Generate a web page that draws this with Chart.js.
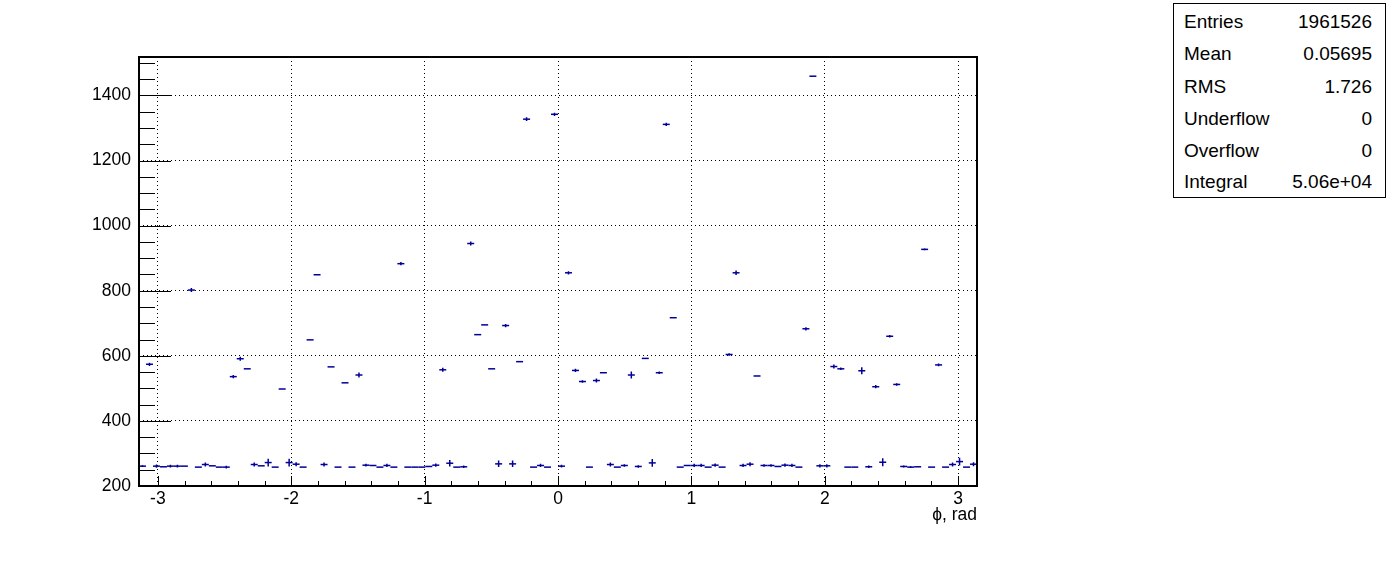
<!DOCTYPE html>
<html>
<head>
<meta charset="utf-8">
<script src="https://cdn.jsdelivr.net/npm/chart.js@4/dist/chart.umd.min.js"></script>
<style>
  html, body { margin: 0; padding: 0; background: #fff; }
  #wrap { position: relative; width: 1396px; height: 572px; }
  #stats {
    position: absolute; left: 1173px; top: 3px; width: 211px; height: 193px;
    border: 1px solid #000; background: #fff;
    font-family: "Liberation Sans", Arial, sans-serif; font-size: 19px; color: #000;
  }
  #stats .row {
    position: absolute; left: 10px; right: 13px; height: 32px;
    display: flex; justify-content: space-between; align-items: center;
  }
</style>
</head>
<body>
<div id="wrap">
  <canvas id="c" width="1396" height="572"></canvas>
  <div id="stats"></div>
</div>
<script>
'use strict';

// histogram: 120 bins over [-pi, pi]
const nBins = 120;
const phiMin = -Math.PI;
const phiMax = Math.PI;

// bin contents
const counts = [
  261, 574, 261, 259, 261, 261, 261, 802, 258, 266,
  262, 258, 258, 536, 591, 560, 266, 262, 272, 258,
  498, 272, 267, 258, 649, 849, 266, 566, 258, 517,
  258, 541, 264, 263, 258, 263, 258, 883, 258, 258,
  258, 260, 264, 557, 270, 258, 259, 945, 665, 695,
  560, 268, 693, 268, 582, 1327, 258, 263, 258, 1342,
  261, 855, 555, 521, 258, 524, 548, 266, 258, 263,
  541, 260, 592, 271, 548, 1311, 717, 258, 263, 263,
  263, 258, 264, 258, 604, 855, 263, 267, 538, 263,
  263, 260, 264, 263, 258, 683, 1459, 262, 262, 567,
  560, 258, 258, 554, 259, 505, 273, 660, 512, 260,
  258, 259, 927, 258, 572, 258, 266, 275, 258, 267
];

// error bar half heights
const errors = [
  3, 5, 5, 0, 4, 4, 0, 6, 0, 6,
  0, 0, 4, 5, 6, 0, 6, 0, 12, 0,
  0, 12, 6, 0, 0, 0, 6, 0, 0, 0,
  0, 8, 4, 0, 0, 5, 0, 5, 0, 0,
  0, 0, 5, 6, 10, 0, 4, 6, 0, 0,
  0, 10, 5, 10, 0, 6, 0, 5, 0, 5,
  4, 5, 5, 4, 0, 6, 0, 6, 0, 4,
  11, 4, 0, 12, 4, 5, 0, 0, 0, 5,
  5, 0, 5, 0, 4, 7, 5, 6, 0, 4,
  4, 0, 5, 5, 0, 5, 0, 5, 5, 6,
  4, 0, 0, 11, 4, 5, 12, 4, 4, 3,
  3, 0, 3, 0, 4, 0, 6, 12, 0, 6
];

const xTickValues = [-3, -2, -1, 0, 1, 2, 3];
const yTickValues = [200, 400, 600, 800, 1000, 1200, 1400];

const statsLabels = ['Entries', 'Mean', 'RMS', 'Underflow', 'Overflow', 'Integral'];
const statsValues = ['1961526', '0.05695', '1.726', '0', '0', '5.06e+04'];

const markerColor = '#000099';
const fontFamily = '"Liberation Sans", Arial, sans-serif';
const axisFont = { family: fontFamily, size: 17.5 };

const binWidth = (phiMax - phiMin) / nBins;
const binCenters = counts.map((_, i) => phiMin + (i + 0.5) * binWidth);

// stats box
const statsBox = document.getElementById('stats');
const rowTops = [2, 34, 67, 99, 131, 162];
statsLabels.forEach((lab, i) => {
  const row = document.createElement('div');
  row.className = 'row';
  row.style.top = rowTops[i] + 'px';
  row.innerHTML = '<span>' + lab + '</span><span>' + statsValues[i] + '</span>';
  statsBox.appendChild(row);
});

// frame, inner tick marks and error bars, ROOT style
const rootFrame = {
  id: 'rootFrame',
  afterDatasetsDraw(chart) {
    const { ctx, chartArea: a, scales: { x, y } } = chart;
    ctx.save();

    ctx.strokeStyle = markerColor;
    ctx.lineWidth = 1.5;
    ctx.beginPath();
    counts.forEach((c, i) => {
      if (!errors[i]) return;
      const px = x.getPixelForValue(binCenters[i]);
      ctx.moveTo(px, y.getPixelForValue(c - errors[i]));
      ctx.lineTo(px, y.getPixelForValue(c + errors[i]));
    });
    ctx.stroke();

    ctx.strokeStyle = '#000';
    ctx.lineWidth = 1;
    ctx.beginPath();
    for (let v = 200; v <= y.max; v += 50) {
      const py = Math.round(y.getPixelForValue(v)) + 0.5;
      const len = v % 200 === 0 ? 32 : 16;
      ctx.moveTo(a.left, py);
      ctx.lineTo(a.left + len, py);
    }
    for (let k = -15; k <= 15; k++) {
      const px = Math.round(x.getPixelForValue(k / 5)) + 0.5;
      const len = k % 5 === 0 ? 10 : 5;
      ctx.moveTo(px, a.bottom);
      ctx.lineTo(px, a.bottom - len);
    }
    ctx.stroke();

    ctx.lineWidth = 2;
    ctx.strokeRect(a.left, a.top, a.right - a.left, a.bottom - a.top);
    ctx.restore();
  }
};

new Chart(document.getElementById('c').getContext('2d'), {
  type: 'scatter',
  data: {
    datasets: [{
      data: counts.map((c, i) => ({ x: binCenters[i], y: c })),
      pointStyle: 'line',
      radius: 3.49,
      borderWidth: 1.5,
      borderColor: markerColor,
      backgroundColor: markerColor,
    }]
  },
  options: {
    responsive: false,
    animation: false,
    devicePixelRatio: 1,
    events: [],
    layout: { padding: { top: 57, right: 419, bottom: 36, left: 0 } },
    plugins: { legend: { display: false }, tooltip: { enabled: false } },
    scales: {
      x: {
        type: 'linear',
        min: phiMin,
        max: phiMax,
        afterBuildTicks: s => { s.ticks = xTickValues.map(v => ({ value: v })); },
        afterFit: s => { s.height = 50; },
        grid: { color: '#000', lineWidth: 1, drawTicks: false },
        border: { display: false, dash: [1, 3] },
        ticks: {
          color: '#000', padding: 3, font: axisFont,
          maxRotation: 0, autoSkip: false,
          callback: v => String(v)
        },
        title: {
          display: true, text: 'ϕ, rad', align: 'end', color: '#000',
          font: axisFont, padding: { top: 0, bottom: 10 }
        }
      },
      y: {
        type: 'linear',
        min: 200,
        max: 1518,
        afterBuildTicks: s => { s.ticks = yTickValues.map(v => ({ value: v })); },
        afterFit: s => { s.width = 139; },
        grid: { color: '#000', lineWidth: 1, drawTicks: false },
        border: { display: false, dash: [1, 3] },
        ticks: {
          color: '#000', padding: 8, font: axisFont,
          autoSkip: false,
          callback: v => String(v)
        }
      }
    }
  },
  plugins: [rootFrame]
});
</script>
</body>
</html>
